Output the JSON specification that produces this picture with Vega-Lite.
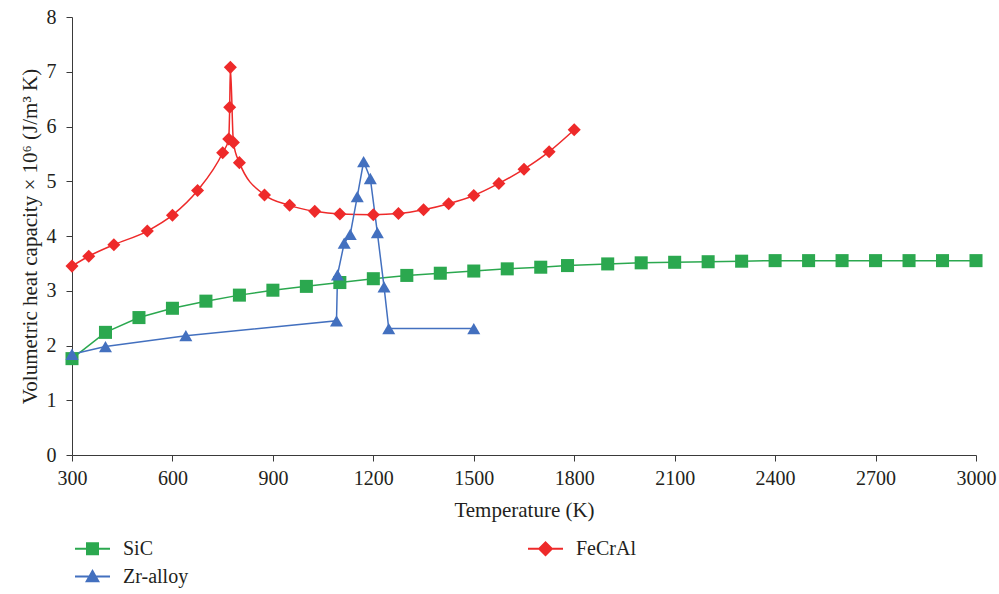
{
  "$schema": "https://vega.github.io/schema/vega-lite/v6.json",
  "autosize": "none",
  "width": 904,
  "height": 438,
  "padding": {"left": 72, "top": 17, "right": 23, "bottom": 139},
  "background": "white",
  "config": {
    "view": {"stroke": null},
    "font": "Liberation Serif",
    "axis": {"labelFont": "Liberation Serif", "titleFont": "Liberation Serif", "labelFontSize": 20, "titleFontSize": 21, "titleFontWeight": "normal", "labelColor": "#231f20", "titleColor": "#231f20", "domainColor": "#3a3a3a", "tickColor": "#3a3a3a", "grid": false, "tickSize": 6},
    "legend": {"labelFont": "Liberation Serif", "labelFontSize": 20, "labelColor": "#231f20", "padding": 0}
  },
  "data": {"values": [
    {"m": "SiC", "T": 300, "v": 1.76},
    {"m": "SiC", "T": 400, "v": 2.24},
    {"m": "SiC", "T": 500, "v": 2.51},
    {"m": "SiC", "T": 600, "v": 2.68},
    {"m": "SiC", "T": 700, "v": 2.81},
    {"m": "SiC", "T": 800, "v": 2.92},
    {"m": "SiC", "T": 900, "v": 3.01},
    {"m": "SiC", "T": 1000, "v": 3.08},
    {"m": "SiC", "T": 1100, "v": 3.15},
    {"m": "SiC", "T": 1200, "v": 3.22},
    {"m": "SiC", "T": 1300, "v": 3.28},
    {"m": "SiC", "T": 1400, "v": 3.32},
    {"m": "SiC", "T": 1500, "v": 3.36},
    {"m": "SiC", "T": 1600, "v": 3.40},
    {"m": "SiC", "T": 1700, "v": 3.43},
    {"m": "SiC", "T": 1780, "v": 3.46},
    {"m": "SiC", "T": 1900, "v": 3.49},
    {"m": "SiC", "T": 2000, "v": 3.51},
    {"m": "SiC", "T": 2100, "v": 3.52},
    {"m": "SiC", "T": 2200, "v": 3.53},
    {"m": "SiC", "T": 2300, "v": 3.54},
    {"m": "SiC", "T": 2400, "v": 3.55},
    {"m": "SiC", "T": 2500, "v": 3.55},
    {"m": "SiC", "T": 2600, "v": 3.55},
    {"m": "SiC", "T": 2700, "v": 3.55},
    {"m": "SiC", "T": 2800, "v": 3.55},
    {"m": "SiC", "T": 2900, "v": 3.55},
    {"m": "SiC", "T": 3000, "v": 3.55},
    {"m": "FeCrAl", "T": 300, "v": 3.45},
    {"m": "FeCrAl", "T": 350, "v": 3.63},
    {"m": "FeCrAl", "T": 425, "v": 3.84},
    {"m": "FeCrAl", "T": 525, "v": 4.09},
    {"m": "FeCrAl", "T": 600, "v": 4.38},
    {"m": "FeCrAl", "T": 675, "v": 4.83},
    {"m": "FeCrAl", "T": 750, "v": 5.52},
    {"m": "FeCrAl", "T": 768, "v": 5.77},
    {"m": "FeCrAl", "T": 771, "v": 6.35},
    {"m": "FeCrAl", "T": 773, "v": 7.08},
    {"m": "FeCrAl", "T": 782, "v": 5.71},
    {"m": "FeCrAl", "T": 800, "v": 5.34},
    {"m": "FeCrAl", "T": 875, "v": 4.75},
    {"m": "FeCrAl", "T": 950, "v": 4.56},
    {"m": "FeCrAl", "T": 1025, "v": 4.45},
    {"m": "FeCrAl", "T": 1100, "v": 4.40},
    {"m": "FeCrAl", "T": 1200, "v": 4.39},
    {"m": "FeCrAl", "T": 1275, "v": 4.41},
    {"m": "FeCrAl", "T": 1350, "v": 4.48},
    {"m": "FeCrAl", "T": 1425, "v": 4.59},
    {"m": "FeCrAl", "T": 1500, "v": 4.74},
    {"m": "FeCrAl", "T": 1575, "v": 4.96},
    {"m": "FeCrAl", "T": 1650, "v": 5.22},
    {"m": "FeCrAl", "T": 1725, "v": 5.54},
    {"m": "FeCrAl", "T": 1800, "v": 5.94},
    {"m": "Zr-alloy", "T": 300, "v": 1.84},
    {"m": "Zr-alloy", "T": 400, "v": 1.98},
    {"m": "Zr-alloy", "T": 640, "v": 2.18},
    {"m": "Zr-alloy", "T": 1090, "v": 2.45},
    {"m": "Zr-alloy", "T": 1093, "v": 3.29},
    {"m": "Zr-alloy", "T": 1113, "v": 3.87},
    {"m": "Zr-alloy", "T": 1131, "v": 4.03},
    {"m": "Zr-alloy", "T": 1152, "v": 4.72},
    {"m": "Zr-alloy", "T": 1171, "v": 5.36},
    {"m": "Zr-alloy", "T": 1191, "v": 5.05},
    {"m": "Zr-alloy", "T": 1212, "v": 4.06},
    {"m": "Zr-alloy", "T": 1232, "v": 3.07},
    {"m": "Zr-alloy", "T": 1246, "v": 2.31},
    {"m": "Zr-alloy", "T": 1500, "v": 2.31}
  ]},
  "encoding": {
    "x": {"field": "T", "type": "quantitative", "title": "Temperature (K)",
      "scale": {"domain": [300, 3000], "nice": false, "zero": false},
      "axis": {"values": [300, 600, 900, 1200, 1500, 1800, 2100, 2400, 2700, 3000], "format": "d", "labelPadding": 7, "titlePadding": 11, "labelFlush": false}},
    "y": {"field": "v", "type": "quantitative", "title": "Volumetric heat capacity × 10⁶ (J/m³ K)",
      "scale": {"domain": [0, 8], "nice": false},
      "axis": {"values": [0, 1, 2, 3, 4, 5, 6, 7, 8], "labelPadding": 10, "titlePadding": 6}}
  },
  "layer": [
    {"transform": [{"filter": "datum.m === 'FeCrAl'"}],
     "mark": {"type": "line", "interpolate": "monotone", "strokeWidth": 1.5},
     "encoding": {"stroke": {"field": "m", "type": "nominal", "legend": null,
       "scale": {"range": ["#ee2a2a", "#2ba84f", "#4370bf"]}}}},
    {"transform": [{"filter": "datum.m !== 'FeCrAl'"}],
     "mark": {"type": "line", "strokeWidth": 1.5},
     "encoding": {"stroke": {"field": "m", "type": "nominal", "legend": null,
       "scale": {"range": ["#ee2a2a", "#2ba84f", "#4370bf"]}}}},
    {"mark": {"type": "point", "filled": true, "opacity": 1, "size": 170},
     "encoding": {
       "shape": {"field": "m", "type": "nominal", "legend": null,
         "scale": {"range": ["diamond", "square", "triangle-up"]}},
       "color": {"field": "m", "type": "nominal",
         "scale": {"domain": ["SiC", "Zr-alloy", "FeCrAl"], "range": ["#2ba84f", "#4370bf", "#ee2a2a"]},
         "legend": {"title": null, "orient": "none", "legendX": 8, "legendY": 519, "columns": 2, "columnPadding": 339, "rowPadding": 5,
           "labelFont": "Liberation Serif", "labelFontSize": 20, "labelColor": "#231f20",
           "symbolSize": 625, "symbolStrokeWidth": 0, "labelOffset": 18, "symbolOpacity": 1,
           "encoding": {
             "labels": {"font": {"value": "Liberation Serif"}, "fontSize": {"value": 20}},
             "symbols": {"shape": {"value": {"expr": "datum.value === 'SiC' ? 'M-1.4,-0.08H1.4V0.08H-1.4Z M-0.52,-0.52H0.52V0.52H-0.52Z' : datum.value === 'FeCrAl' ? 'M-1.4,-0.08H1.4V0.08H-1.4Z M0,-0.62L0.62,0L0,0.62L-0.62,0Z' : 'M-1.4,-0.08H1.4V0.08H-1.4Z M0,-0.6L0.6,0.46L-0.6,0.46Z'"}}}}}}
     }}
  ]
}
